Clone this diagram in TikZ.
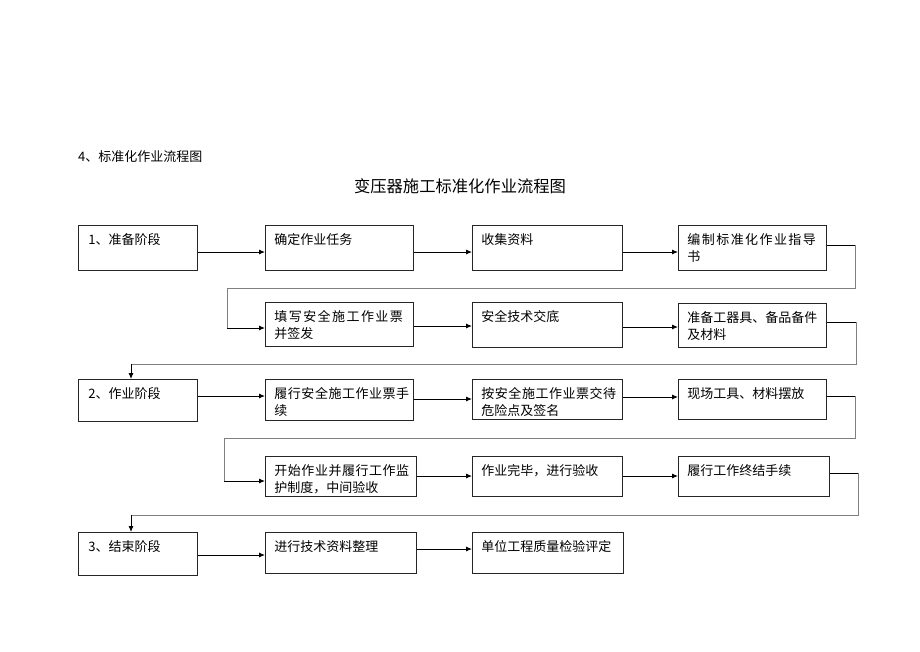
\documentclass[tikz,border=0pt]{standalone}
\usepackage{fontspec}
\setmainfont{Noto Sans CJK SC}
\usetikzlibrary{arrows.meta}
\tikzset{
  boxst/.style={draw=black!85, line width=0.9pt, inner sep=0pt, anchor=north west},
  arr/.style={draw=black, line width=0.9pt, -{Latex[length=6pt,width=5pt]}},
  stub/.style={draw=black, line width=0.9pt},
  loopln/.style={draw=black!50, line width=1pt},
  hdrst/.style={anchor=west, inner sep=0pt, font=\fontsize{13pt}{16pt}\selectfont},
  titlest/.style={anchor=center, inner sep=0pt, font=\fontsize{16.3pt}{20pt}\selectfont},
}
\newcommand\lsp[1]{{\addfontfeature{LetterSpace=11}#1}}
\newcommand\lspb[1]{{\addfontfeature{LetterSpace=4}#1}}
\newcommand\bx[6]{%
  \node[boxst] (#1) at (#2,#3) {\parbox[t][\dimexpr#5pt-#3pt\relax][t]{\dimexpr#4pt-#2pt\relax}{%
    \fontsize{13pt}{17.5pt}\selectfont\parindent=0pt\leftskip=9pt\rightskip=0pt plus 1fil
    \rule{0pt}{19pt}#6}};}
\begin{document}
\begin{tikzpicture}[x=1pt,y=-1pt]
\useasboundingbox (0,0) rectangle (920,651);
\node[hdrst] (hdr) at (78,157) {4、标准化作业流程图};
\node[titlest] (title) at (460,186) {变压器施工标准化作业流程图};
% row 1
\bx{A}{78}{225}{197}{270}{\hspace*{1pt}1、准备阶段}
\bx{B}{265}{225}{413}{270}{确定作业任务}
\bx{C}{472}{225}{622}{270}{收集资料}
\bx{D}{678}{225}{826}{270}{\lsp{编制标准化作业指导}\\书}
% row 2
\bx{E}{265}{302}{413}{346}{\lsp{填写安全施工作业票}\\并签发}
\bx{F}{472}{302}{622}{347}{安全技术交底}
\bx{G}{678}{303}{826}{347}{准备工器具、备品备件\\及材料}
% row 3
\bx{H}{78}{379}{197}{421}{\hspace*{1pt}2、作业阶段}
\bx{I}{265}{379}{413}{420}{\lspb{履行安全施工作业票手}\\续}
\bx{J}{472}{379}{622}{419}{\lspb{按安全施工作业票交待}\\危险点及签名}
\bx{K}{678}{379}{826}{419}{现场工具、材料摆放}
% row 4
\bx{L}{265}{456}{416}{496}{\lspb{开始作业并履行工作监}\\护制度，中间验收}
\bx{M}{472}{456}{622}{496}{作业完毕，进行验收}
\bx{N}{678}{456}{829}{496}{履行工作终结手续}
% row 5
\bx{O}{78}{532}{197}{575}{\hspace*{1pt}3、结束阶段}
\bx{P}{265}{532}{416}{573}{进行技术资料整理}
\bx{Q}{472}{532}{623}{573}{单位工程质量检验评定}
% straight arrows
\draw[arr] (A.east |- 0,252) -- (B.west |- 0,252);
\draw[arr] (B.east |- 0,252) -- (C.west |- 0,252);
\draw[arr] (C.east |- 0,252) -- (D.west |- 0,252);
\draw[arr] (E.east |- 0,326) -- (F.west |- 0,326);
\draw[arr] (F.east |- 0,327) -- (G.west |- 0,327);
\draw[arr] (H.east |- 0,396) -- (I.west |- 0,396);
\draw[arr] (I.east |- 0,399) -- (J.west |- 0,399);
\draw[arr] (J.east |- 0,397) -- (K.west |- 0,397);
\draw[arr] (L.east |- 0,476) -- (M.west |- 0,476);
\draw[arr] (M.east |- 0,476) -- (N.west |- 0,476);
\draw[arr] (O.east |- 0,555) -- (P.west |- 0,555);
\draw[arr] (P.east |- 0,549) -- (Q.west |- 0,549);
% return connectors
\coordinate (r1s) at (855,245);
\coordinate (r1a) at (855,288);
\coordinate (r1b) at (227,288);
\coordinate (r1e) at (227,328);
\draw[loopln] (r1s) -- (r1a) -- (r1b) -- (r1e);
\draw[stub] (D.east |- r1s) -- (r1s);
\draw[arr] (r1e) -- (E.west |- r1e);
\coordinate (r2s) at (856,322);
\coordinate (r2a) at (856,364);
\coordinate (r2b) at (131,364);
\draw[loopln] (r2s) -- (r2a) -- (r2b);
\draw[stub] (G.east |- r2s) -- (r2s);
\draw[arr] (r2b) -- (H.north -| r2b);
\coordinate (r3s) at (855,396);
\coordinate (r3a) at (855,438);
\coordinate (r3b) at (224,438);
\coordinate (r3e) at (224,481);
\draw[loopln] (r3s) -- (r3a) -- (r3b) -- (r3e);
\draw[stub] (K.east |- r3s) -- (r3s);
\draw[arr] (r3e) -- (L.west |- r3e);
\coordinate (r4s) at (858,473);
\coordinate (r4a) at (858,515);
\coordinate (r4b) at (131,515);
\draw[loopln] (r4s) -- (r4a) -- (r4b);
\draw[stub] (N.east |- r4s) -- (r4s);
\draw[arr] (r4b) -- (O.north -| r4b);
\end{tikzpicture}
\end{document}
